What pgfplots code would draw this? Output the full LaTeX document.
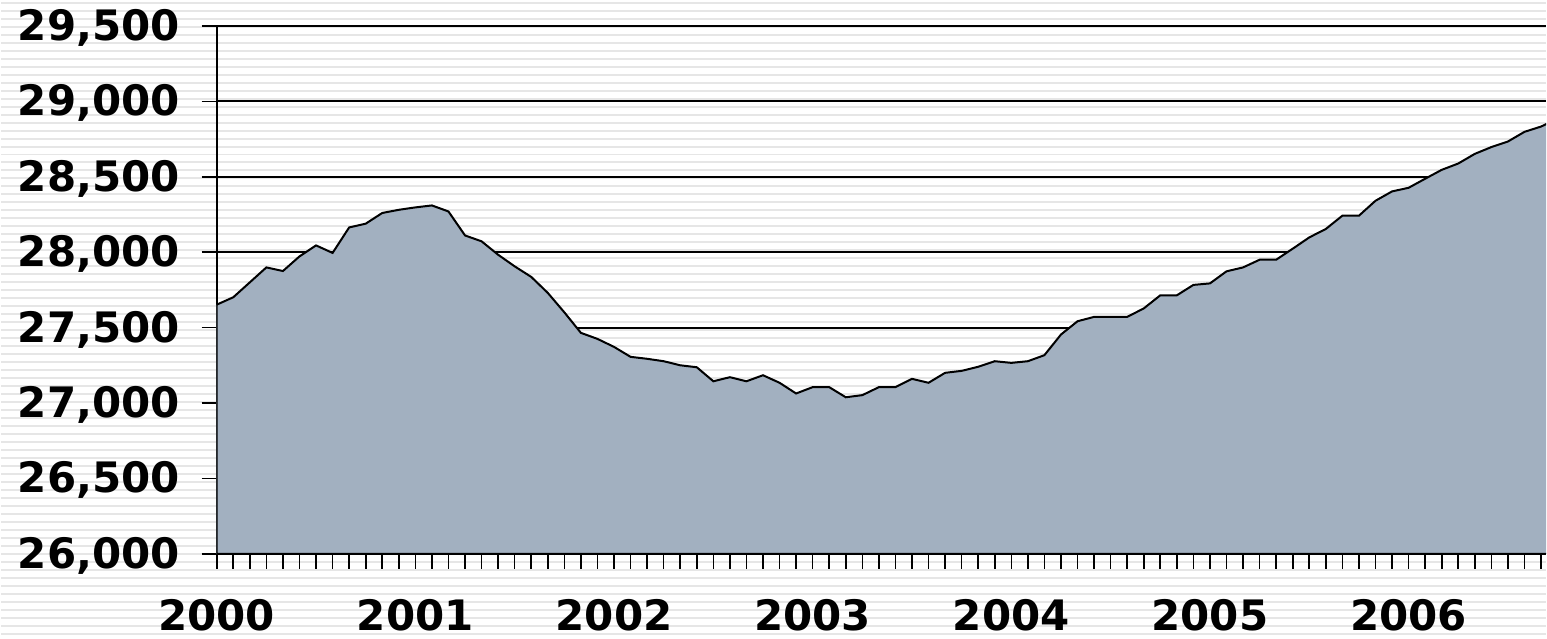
\documentclass[border=0pt]{standalone}
\usepackage{fontspec}
\setmainfont{DejaVu Sans}
\usepackage{pgfplots}
\usepackage{pgfplotstable}
\pgfplotsset{compat=1.18}

\definecolor{areafill}{RGB}{162,176,192}
\definecolor{stripe}{RGB}{230,230,230}

% monthly values, Jan 2000 = 0
\pgfplotstableread{
m v
0 27652
1 27701
2 27800
3 27899
4 27875
5 27972
6 28045
7 27995
8 28164
9 28189
10 28260
11 28281
12 28297
13 28310
14 28270
15 28111
16 28072
17 27983
18 27906
19 27836
20 27730
21 27601
22 27465
23 27425
24 27372
25 27306
26 27293
27 27277
28 27250
29 27237
30 27144
31 27171
32 27144
33 27184
34 27134
35 27063
36 27105
37 27105
38 27038
39 27052
40 27105
41 27105
42 27160
43 27134
44 27200
45 27213
46 27240
47 27277
48 27266
49 27277
50 27317
51 27454
52 27542
53 27571
54 27571
55 27571
56 27627
57 27714
58 27714
59 27783
60 27793
61 27873
62 27899
63 27950
64 27950
65 28023
66 28098
67 28154
68 28242
69 28242
70 28341
71 28403
72 28427
73 28487
74 28546
75 28588
76 28652
77 28697
78 28734
79 28798
80 28833
81 28885
}\datatable

\begin{document}
\begin{tikzpicture}
% striped slide background
\fill[white] (0,0) rectangle (773.5pt,318.5pt);
\foreach \k in {0,...,79}
  \draw[stripe, line width=1pt] (0,317.15pt-\k*4pt) -- (773.5pt,317.15pt-\k*4pt);

\begin{axis}[
  at={(108pt,41.25pt)}, anchor=south west,
  scale only axis,
  width=665.5pt, height=264.25pt,
  xmin=0, xmax=80.3,
  ymin=26000, ymax=29500,
  axis lines=left,
  axis line style={-, line width=1pt},
  xtick={0,12,...,72},
  xticklabels={2000,2001,2002,2003,2004,2005,2006},
  minor xtick={1,...,80},
  ytick={26000,26500,...,29500},
  scaled y ticks=false,
  /pgf/number format/fixed,
  /pgf/number format/1000 sep={,},
  /pgf/number format/assume math mode=true,
  tick align=outside,
  major tick length=7.5pt,
  minor tick length=7.5pt,
  tick style={black, line width=0.8pt},
  ymajorgrids=true,
  grid style={black, line width=1pt},
  tick label style={font=\fontsize{21}{24}\selectfont\bfseries},
  xticklabel style={yshift=-12pt},
  yticklabel style={xshift=-7.5pt, yshift=-1pt},
]
\addplot[fill=areafill, draw=black, line width=1pt] table[x=m, y=v] {\datatable} \closedcycle;
% bottom axis line over the area
\draw[line width=1pt] (rel axis cs:0,0) -- (rel axis cs:1,0);
\end{axis}
\end{tikzpicture}
\end{document}
